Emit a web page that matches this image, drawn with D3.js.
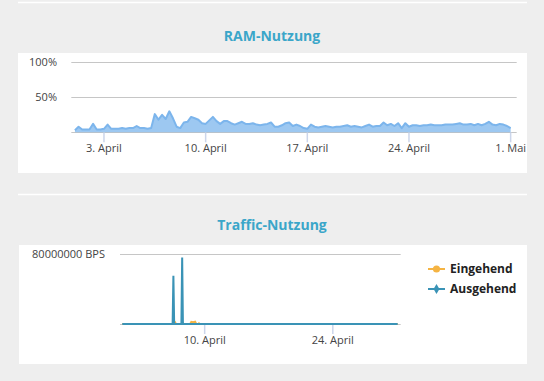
<!DOCTYPE html>
<html>
<head>
<meta charset="utf-8">
<script src="https://cdn.jsdelivr.net/npm/d3@7"></script>
<style>
    body { margin: 0; background: #eeeeee; font-family: "Open Sans", sans-serif; }
    svg { display: block; }
</style>
</head>
<body>
<script>
// RAM usage in percent, one value every 6 hours from 1. April 00:00
var ramStart  = "2017-04-01 00:00";
var ramValues = [
    3, 8, 4, 4, 4, 12, 4, 4, 5, 11, 5, 5, 5, 6, 5, 6, 6, 9, 6, 6,
    5, 6, 26, 18, 25, 19, 30, 20, 8, 6, 14, 15, 22, 20, 18, 13, 12, 17, 22, 16,
    12, 16, 16, 13, 11, 13, 15, 12, 12, 13, 11, 10, 11, 12, 14, 8, 8, 10, 13, 14,
    9, 11, 9, 6, 5, 11, 8, 7, 8, 9, 8, 7, 8, 8, 9, 10, 8, 9, 8, 7,
    9, 11, 8, 9, 9, 14, 10, 12, 9, 13, 6, 13, 8, 10, 10, 9, 10, 10, 11, 10,
    10, 10, 11, 11, 11, 12, 13, 11, 11, 12, 10, 12, 10, 12, 15, 11, 10, 12, 11, 9,
    6
];
var ramTicks  = ["2017-04-03", "2017-04-10", "2017-04-17", "2017-04-24", "2017-05-01"];
var ramYTicks = [50, 100];

// traffic in BPS
var trafficSeries = ["Eingehend", "Ausgehend"];
var inTimes  = ["2017-04-01 00:00", "2017-04-06 17:00", "2017-04-06 19:00", "2017-04-06 21:00",
                "2017-04-07 13:00", "2017-04-07 15:00", "2017-04-07 17:00", "2017-04-08 10:00",
                "2017-04-08 13:00", "2017-04-08 18:00", "2017-04-08 23:00", "2017-04-09 02:00",
                "2017-04-09 07:00", "2017-04-09 09:00", "2017-04-09 11:00", "2017-05-01 02:00"];
var inValues = [0, 0, 1500000, 0, 0, 1200000, 0, 0, 2500000, 2000000, 2600000, 0, 0, 800000, 0, 0];
var outTimes  = ["2017-04-01 00:00", "2017-04-06 12:00", "2017-04-06 14:00", "2017-04-06 16:00",
                 "2017-04-07 11:00", "2017-04-07 13:00", "2017-04-07 15:00", "2017-05-01 02:00"];
var outValues = [0, 0, 55000000, 0, 0, 76000000, 0, 0];
var trafficTicks  = ["2017-04-10", "2017-04-24"];
var trafficYTicks = [80000000];

var colors = { ram: "#7cb5ec", in: "#f5b443", out: "#3a93b6", title: "#3ba6c9" };

var parseTime = d3.timeParse("%Y-%m-%d %H:%M");
var parseDay  = d3.timeParse("%Y-%m-%d");
var de = d3.timeFormatLocale({
    dateTime: "%A, %e. %B %Y, %X", date: "%d.%m.%Y", time: "%H:%M:%S",
    periods: ["AM", "PM"],
    days: ["Sonntag", "Montag", "Dienstag", "Mittwoch", "Donnerstag", "Freitag", "Samstag"],
    shortDays: ["So", "Mo", "Di", "Mi", "Do", "Fr", "Sa"],
    months: ["Januar", "Februar", "März", "April", "Mai", "Juni", "Juli", "August", "September", "Oktober", "November", "Dezember"],
    shortMonths: ["Jan", "Feb", "Mrz", "Apr", "Mai", "Jun", "Jul", "Aug", "Sep", "Okt", "Nov", "Dez"]
});
var tickFormat = de.format("%-d. %B");
var domain = [new Date(2017, 2, 31, 18), new Date(2017, 4, 1, 10)];

var svg = d3.select("body").append("svg").attr("width", 544).attr("height", 381);

// separators, panels, titles
[2.5, 194.5].forEach(function (y) {
    svg.append("line").attr("x1", 18).attr("x2", 527).attr("y1", y).attr("y2", y)
        .attr("stroke", "#ffffff").attr("stroke-width", 1.5);
});
svg.append("rect").attr("x", 18).attr("y", 53).attr("width", 509).attr("height", 120).attr("fill", "#ffffff");
svg.append("rect").attr("x", 19).attr("y", 245).attr("width", 508).attr("height", 119).attr("fill", "#ffffff");
[["RAM-Nutzung", 40.5], ["Traffic-Nutzung", 230]].forEach(function (t) {
    svg.append("text").attr("x", 272).attr("y", t[1]).attr("text-anchor", "middle")
        .attr("fill", colors.title).style("font-size", "14px").style("font-weight", "bold").text(t[0]);
});

function drawAxes(x, y, ticks, yTicks, yFormat, labelX) {
    var g = svg.append("g");
    g.selectAll(".grid").data([0].concat(yTicks)).enter().append("line")
        .attr("x1", x.range()[0]).attr("x2", x.range()[1])
        .attr("y1", function (d) { return Math.round(y(d)) + 0.5; })
        .attr("y2", function (d) { return Math.round(y(d)) + 0.5; })
        .attr("stroke", "#c6c6c6").attr("stroke-width", 1);
    g.selectAll(".ylab").data(yTicks).enter().append("text")
        .attr("x", labelX).attr("y", function (d) { return y(d) + 3.8; })
        .attr("text-anchor", "end").attr("fill", "#444").style("font-size", "11px")
        .text(yFormat);
    var t = g.selectAll(".tick").data(ticks.map(parseDay)).enter().append("g");
    t.append("line")
        .attr("x1", function (d) { return x(d); }).attr("x2", function (d) { return x(d); })
        .attr("y1", y(0)).attr("y2", y(0) + 10)
        .attr("stroke", "#ccd6eb").attr("stroke-width", 1.5);
    t.append("text")
        .attr("x", function (d) { return x(d); }).attr("y", y(0) + 19.5)
        .attr("text-anchor", "middle").attr("fill", "#444").style("font-size", "11px")
        .text(tickFormat);
}

// RAM chart
var ramX = d3.scaleTime().domain(domain).range([71.3, 516.7]);
var ramY = d3.scaleLinear().domain([0, 100]).range([132.3, 62.3]);
var t0 = parseTime(ramStart);
var ramData = ramValues.map(function (v, i) { return { t: d3.timeHour.offset(t0, i * 6), v: v }; });

drawAxes(ramX, ramY, ramTicks, ramYTicks, function (d) { return d + "%"; }, 57);

svg.append("path").datum(ramData)
    .attr("fill", colors.ram).attr("fill-opacity", 0.75)
    .attr("d", d3.area().x(function (d) { return ramX(d.t); }).y0(ramY(0)).y1(function (d) { return ramY(d.v); }));
svg.append("path").datum(ramData)
    .attr("fill", "none").attr("stroke", colors.ram).attr("stroke-width", 2).attr("stroke-linejoin", "round")
    .attr("d", d3.line().x(function (d) { return ramX(d.t); }).y(function (d) { return ramY(d.v); }));

// Traffic chart
var trX = d3.scaleTime().domain(domain).range([120, 400.7]);
var trY = d3.scaleLinear().domain([0, 80000000]).range([324, 254]);

drawAxes(trX, trY, trafficTicks, trafficYTicks, function (d) { return d + " BPS"; }, 105);

var trLine = d3.line().x(function (d) { return trX(d.t); }).y(function (d) { return trY(d.v); });
[[inTimes, inValues, colors.in], [outTimes, outValues, colors.out]].forEach(function (s) {
    var data = s[0].map(function (t, i) { return { t: parseTime(t), v: s[1][i] }; });
    svg.append("path").datum(data)
        .attr("fill", "none").attr("stroke", s[2]).attr("stroke-width", 2)
        .attr("d", trLine);
});

// legend
var legend = svg.append("g").selectAll("g").data(trafficSeries).enter().append("g")
    .attr("transform", function (d, i) { return "translate(428," + (269 + i * 20) + ")"; });
legend.append("line").attr("x1", 0).attr("x2", 17).attr("y1", 0).attr("y2", 0)
    .attr("stroke", function (d, i) { return i ? colors.out : colors.in; }).attr("stroke-width", 2);
legend.append("path")
    .attr("transform", "translate(8.5,0)")
    .attr("d", function (d, i) { return d3.symbol().type(i ? d3.symbolDiamond : d3.symbolCircle).size(i ? 30 : 40)(); })
    .attr("fill", function (d, i) { return i ? colors.out : colors.in; });
legend.append("text").attr("x", 22).attr("y", 4.3)
    .attr("fill", "#222").style("font-size", "12px").style("font-weight", "bold")
    .text(function (d) { return d; });
</script>
</body>
</html>
